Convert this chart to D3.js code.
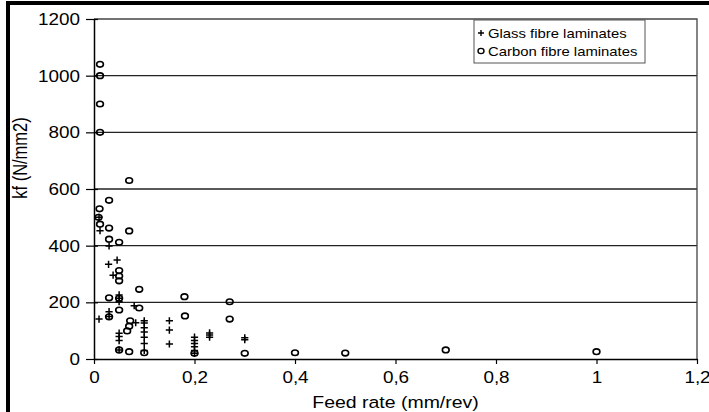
<!DOCTYPE html>
<html>
<head>
<meta charset="utf-8">
<script src="https://cdn.jsdelivr.net/npm/d3@7"></script>
<style>
  body { margin: 0; background: #fff; }
  svg { display: block; }
  text { font-family: "Liberation Sans", Arial, sans-serif; fill: #000; }
</style>
</head>
<body>
<svg id="chart" width="709" height="412"></svg>
<script>
"use strict"

// ticks and legend
var xTicks = [0, 0.2, 0.4, 0.6, 0.8, 1, 1.2]
var yTicks = [0, 200, 400, 600, 800, 1000, 1200]
var gridValues = [200, 400, 600, 800, 1000]
var seriesNames = ["Glass fibre laminates", "Carbon fibre laminates"]

// glass fibre laminates (+)
var glassFeed = [0.01, 0.012, 0.01, 0.029, 0.046, 0.038, 0.03, 0.03, 0.03,
  0.05, 0.05, 0.05, 0.05, 0.05, 0.05, 0.05, 0.08, 0.083,
  0.1, 0.1, 0.1, 0.1, 0.1, 0.1, 0.1, 0.15, 0.15, 0.15,
  0.2, 0.2, 0.2, 0.2, 0.2, 0.2, 0.23, 0.23, 0.23, 0.3, 0.3]
var glassKf = [500, 453, 141, 334, 349, 296, 399, 167, 150,
  226, 214, 202, 91, 79, 65, 32, 188, 128,
  135, 127, 110, 95, 77, 55, 30, 135, 102, 53,
  77, 65, 55, 43, 30, 20, 92, 85, 77, 75, 68]

// carbon fibre laminates (o)
var carbonFeed = [0.012, 0.012, 0.012, 0.012, 0.07, 0.03, 0.011, 0.009, 0.012,
  0.03, 0.07, 0.03, 0.05, 0.05, 0.05, 0.05, 0.09, 0.03, 0.05,
  0.18, 0.09, 0.05, 0.03, 0.181, 0.27, 0.27, 0.072, 0.07, 0.066,
  0.05, 0.07, 0.1, 0.2, 0.3, 0.4, 0.5, 0.7, 1.0]
var carbonKf = [1040, 1000, 900, 800, 630, 560, 530, 500, 476,
  462, 452, 423, 412, 312, 293, 276, 246, 216, 214,
  220, 180, 173, 149, 152, 202, 141, 135, 116, 99,
  32, 26, 22, 20, 20, 22, 21, 32, 26]

var plot = { left: 94, right: 697, top: 19, bottom: 359 }
var stretch = 1.18   // the source picture is wider than tall

/**
 * Text that is stretched horizontally like in the picture
 */
function stretchedText(g, x, y, str, size, anchor) {
  return g.append("text")
    .attr("transform", "translate(" + x + "," + y + ") scale(" + stretch + ",1)")
    .attr("text-anchor", anchor || "start")
    .style("font-size", size + "px")
    .text(str)
}

function pairs(xs, ys) {
  return xs.map((d, i) => ({ feed: d, kf: ys[i] }))
}

function drawFrame(svg) {
  svg.append("line").attr("x1", 8).attr("x2", 8).attr("y1", 1).attr("y2", 412)
    .attr("stroke", "#000").attr("stroke-width", 4)
  svg.append("line").attr("x1", 6).attr("x2", 709).attr("y1", 3).attr("y2", 3)
    .attr("stroke", "#000").attr("stroke-width", 4)
}

function drawGrid(svg, x, y) {
  svg.append("g").selectAll("line")
    .data(gridValues)
    .enter().append("line")
      .attr("x1", plot.left).attr("x2", plot.right)
      .attr("y1", d => y(d)).attr("y2", d => y(d))
      .attr("stroke", "#222").attr("stroke-width", 1.3)

  // plot area border, top and right
  svg.append("path")
    .attr("d", "M" + plot.left + "," + y(1200) + "H" + x(1.2) + "V" + y(0))
    .attr("fill", "none").attr("stroke", "#444").attr("stroke-width", 1.3)
}

function fmt(d) {
  return String(d).replace(".", ",")
}

function drawAxes(svg, x, y) {
  var xAxis = d3.axisBottom(x).tickValues(xTicks).tickSizeInner(5).tickSizeOuter(0).tickFormat(fmt)
  var gx = svg.append("g")
    .attr("transform", "translate(0," + y(0) + ")")
    .call(xAxis)
  gx.select(".domain").attr("stroke", "#000").attr("stroke-width", 1.5)
  gx.selectAll(".tick line").attr("stroke", "#000").attr("stroke-width", 1.2)
  gx.selectAll(".tick text")
    .attr("y", 0).attr("dy", 0)
    .attr("transform", "translate(0,24) scale(" + stretch + ",1)")
    .style("font-size", "16px").style("font-family", "Liberation Sans, Arial, sans-serif")

  var yAxis = d3.axisLeft(y).tickValues(yTicks).tickSizeInner(8).tickSizeOuter(0).tickFormat(d => d)
  var gy = svg.append("g")
    .attr("transform", "translate(" + x(0) + ",0)")
    .call(yAxis)
  gy.select(".domain").attr("stroke", "#000").attr("stroke-width", 1.5)
  gy.selectAll(".tick line").attr("x2", -8).attr("x1", 4).attr("stroke", "#000").attr("stroke-width", 1.2)
  gy.selectAll(".tick text")
    .attr("x", 0).attr("dy", "0.35em")
    .attr("transform", "translate(-14,0) scale(" + stretch + ",1)")
    .style("font-size", "16px").style("font-family", "Liberation Sans, Arial, sans-serif")

  stretchedText(svg, (plot.left + plot.right) / 2, 408, "Feed rate (mm/rev)", 16.5, "middle")
  svg.append("text")
    .attr("transform", "translate(27,158) rotate(-90) scale(1," + stretch + ")")
    .attr("text-anchor", "middle")
    .style("font-size", "16.5px")
    .text("kf (N/mm2)")
}

function plusPath(cx, cy, s) {
  return "M" + (cx - s) + "," + cy + "H" + (cx + s) + "M" + cx + "," + (cy - s) + "V" + (cy + s)
}

function drawPoints(svg, x, y) {
  svg.append("g").selectAll("path")
    .data(pairs(glassFeed, glassKf))
    .enter().append("path")
      .attr("d", d => plusPath(x(d.feed), y(d.kf), 3.6))
      .attr("stroke", "#000").attr("stroke-width", 1.5).attr("fill", "none")

  svg.append("g").selectAll("ellipse")
    .data(pairs(carbonFeed, carbonKf))
    .enter().append("ellipse")
      .attr("cx", d => x(d.feed)).attr("cy", d => y(d.kf))
      .attr("rx", 3.4).attr("ry", 2.8)
      .attr("stroke", "#000").attr("stroke-width", 1.6).attr("fill", "none")
}

function legend(svg) {
  var box = { x: 474, y: 20, w: 171, h: 43 }
  svg.append("rect")
    .attr("x", box.x).attr("y", box.y).attr("width", box.w).attr("height", box.h)
    .attr("fill", "#fff").attr("stroke", "#555").attr("stroke-width", 1)

  var rows = [box.y + 13, box.y + 31]
  svg.append("path").attr("d", plusPath(481, rows[0], 3)).attr("stroke", "#000").attr("stroke-width", 1.4)
  svg.append("ellipse").attr("cx", 481).attr("cy", rows[1]).attr("rx", 3).attr("ry", 2.6)
    .attr("stroke", "#000").attr("stroke-width", 1.4).attr("fill", "none")

  seriesNames.forEach((name, i) => {
    stretchedText(svg, 488, rows[i] + 4.5, name, 12.6)
  })
}

function draw() {
  var svg = d3.select("#chart")
  var x = d3.scaleLinear().domain([0, 1.2]).range([plot.left, plot.right])
  var y = d3.scaleLinear().domain([0, 1200]).range([plot.bottom, plot.top])

  drawFrame(svg)
  drawGrid(svg, x, y)
  drawAxes(svg, x, y)
  drawPoints(svg, x, y)
  legend(svg)
}

draw()
</script>
</body>
</html>
